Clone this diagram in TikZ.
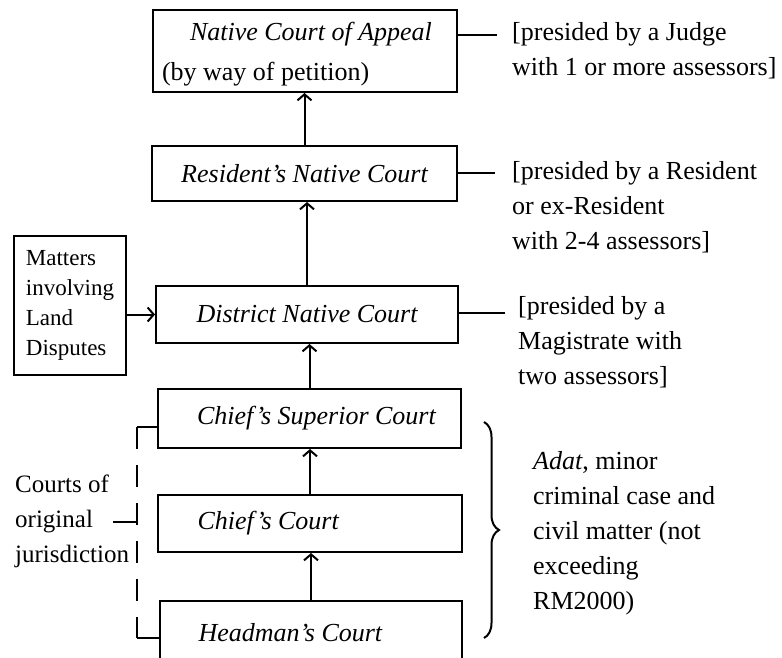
\documentclass[tikz,border=0pt]{standalone}
\usepackage{fontspec}
\setmainfont{Liberation Serif}
\usetikzlibrary{arrows.meta,decorations.pathreplacing}
\newcommand{\lefttxt}[1]{\makebox[225pt][l]{#1}}
\begin{document}
\begin{tikzpicture}[x=1pt,y=-1pt,
  court/.style={draw, line width=2pt, inner sep=0pt, align=center,
    font=\fontsize{26}{35}\selectfont\itshape},
  matbox/.style={draw, line width=2pt, inner sep=0pt, align=left,
    font=\fontsize{23}{30}\selectfont},
  note/.style={inner sep=0pt, anchor=west, align=left,
    font=\fontsize{26}{35}\selectfont},
  arr/.style={line width=2pt, -{Straight Barb[length=6pt,width=14pt,line width=2pt]}},
  conn/.style={line width=1.5pt},
  bracket/.style={line width=2pt},
  bracestyle/.style={line width=2pt, decorate, decoration={brace, amplitude=15pt}},
]
\useasboundingbox (0,0) rectangle (782,657);
\fill[white] (0,0) rectangle (782,657);
\clip (0,0) rectangle (782,657);

% court boxes
\node[court, minimum width=304pt, minimum height=82pt] (appeal) at (305,51)
  {\makebox[286pt][l]{\hspace*{28pt}\rule{0pt}{24pt}Native Court of Appeal}\\[5pt]
   \makebox[286pt][l]{\upshape(by way of petition)}};
\node[court, minimum width=305pt, minimum height=55pt] (resident) at (304.5,173.5)
  {Resident's Native Court};
\node[court, minimum width=302pt, minimum height=57pt] (district) at (307,314.5)
  {District Native Court};
\node[court, minimum width=303pt, minimum height=59pt] (superior) at (309.5,418.5)
  {\lefttxt{Chief's Superior Court}};
\node[court, minimum width=304pt, minimum height=57pt] (chief) at (310,523.5)
  {\lefttxt{Chief's Court}};
\node[court, minimum width=302pt, minimum height=64pt] (headman) at (311,633)
  {\lefttxt{Headman's Court}};
\node[matbox, minimum width=112pt, minimum height=139pt] (matters) at (70,305.5)
  {Matters\\involving\\Land\\Disputes};

% vertical arrows
\draw[arr] (resident.north) -- (resident.north |- appeal.south);
\draw[arr] (district.north) -- (district.north |- resident.south);
\draw[arr] (superior.north) -- (superior.north |- district.south);
\draw[arr] (chief.north) -- (chief.north |- superior.south);
\draw[arr] (headman.north) -- (headman.north |- chief.south);
\draw[arr] (matters.east |- district.west) -- (district.west);

% right notes
\node[note] (n1) at (512,50.5) {[presided by a Judge\\with 1 or more assessors]};
\node[note] (n2) at (512,207.5) {[presided by a Resident\\or ex-Resident\\with 2-4 assessors]};
\node[note] (n3) at (518,342) {[presided by a\\Magistrate with\\two assessors]};
\coordinate (c1) at (497,35);
\coordinate (c2) at (495,173);
\coordinate (c3) at (505,313);
\draw[conn] (c1 -| appeal.east) -- (c1);
\draw[conn] (c2 -| resident.east) -- (c2);
\draw[conn] (c3 -| district.east) -- (c3);

% brace and jurisdiction note
\coordinate (bt) at (484,422);
\coordinate (bb) at (484,638);
\draw[bracestyle] (bt) -- (bb);
\node[note] (adat) at (533,533)
  {\textit{Adat}, minor\\criminal case and\\civil matter (not\\exceeding\\RM2000)};

% left bracket
\node[note, font=\fontsize{25}{35}\selectfont] (courts) at (15,521) {Courts of\\original\\jurisdiction};
\coordinate (dt) at (137,427);
\coordinate (db) at (137,638);
\coordinate (dm) at (137,522);
\draw[bracket] (superior.west |- dt) -- (dt);
\draw[bracket] (headman.west |- db) -- (db);
\draw[bracket, dash pattern=on 22pt off 16pt] (dt) -- (db);
\draw[bracket] (dm) -- ++(-24,0);
\end{tikzpicture}
\end{document}
